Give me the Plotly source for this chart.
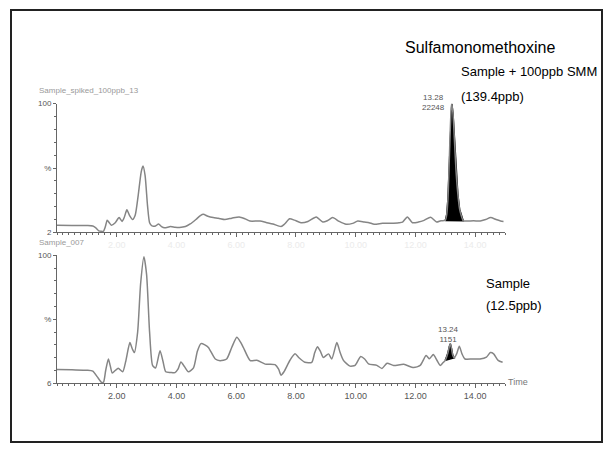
import plotly.graph_objects as go

W, H = 611, 452

# ---------------- data ----------------
top_time = [0.0, 0.5, 1.0, 1.2, 1.3, 1.4, 1.55, 1.62, 1.68, 1.75, 1.82, 1.95, 2.08, 2.18, 2.25, 2.34,
            2.42, 2.53, 2.62, 2.72, 2.82, 2.88, 2.95, 3.03, 3.1, 3.18, 3.3, 3.4, 3.5, 3.6, 3.8, 3.95,
            4.1, 4.3, 4.46, 4.65, 4.8, 4.9, 5.05, 5.23, 5.4, 5.62, 5.85, 6.1, 6.3, 6.46, 6.8, 7.0,
            7.23, 7.5, 7.62, 7.79, 7.95, 8.17, 8.4, 8.68, 8.9, 9.05, 9.23, 9.45, 9.68, 9.9, 10.07,
            10.29, 10.45, 10.62, 10.9, 11.18, 11.45, 11.57, 11.73, 11.9, 12.1, 12.29, 12.51, 12.71,
            12.85, 13.0, 13.05, 13.09, 13.12, 13.16, 13.2, 13.22, 13.26, 13.31, 13.36, 13.42, 13.48,
            13.55, 13.6, 13.72, 13.95, 14.17, 14.35, 14.52, 14.7, 14.85, 14.95]
top_pct = [5.5, 5.3, 5.3, 5.0, 3.5, 1.2, 0.8, 4.5, 9.5, 7.5, 5.5, 7.5, 11.5, 8.5, 11.5, 17.5,
           13.5, 10.0, 13.5, 29, 47, 51.5, 44, 21, 7.5, 5.0, 5.0, 6.5, 4.5, 3.5, 4.5, 4.0,
           3.8, 4.5, 6.5, 10.0, 13.0, 14.0, 12.5, 11.5, 11.0, 10.0, 11.0, 12.0, 10.5, 8.8, 8.8, 7.7,
           6.5, 4.5, 6.5, 10.5, 9.5, 7.5, 8.5, 12.0, 8.0, 9.0, 11.5, 8.5, 6.3, 7.0, 8.8,
           8.0, 7.5, 6.3, 7.0, 7.1, 7.5, 8.0, 12.0, 7.5, 8.0, 9.3, 11.8, 8.0,
           9.0, 9.3, 14, 26, 45, 75, 97, 100, 92, 70, 48, 30, 18,
           12, 9.0, 8.8, 9.0, 8.8, 10.0, 11.5, 10.0, 8.8, 8.5]

bot_time = [0.0, 0.5, 1.0, 1.2, 1.35, 1.5, 1.56, 1.63, 1.72, 1.78, 1.85, 1.95, 2.05, 2.2, 2.3, 2.44,
            2.52, 2.59, 2.7, 2.8, 2.91, 3.0, 3.1, 3.2, 3.3, 3.45, 3.55, 3.64, 3.8, 3.95, 4.05, 4.15,
            4.27, 4.4, 4.57, 4.7, 4.82, 4.95, 5.07, 5.3, 5.46, 5.68, 5.85, 6.02, 6.15, 6.24, 6.47,
            6.69, 6.97, 7.3, 7.42, 7.5, 7.6, 7.8, 7.97, 8.1, 8.3, 8.53, 8.63, 8.72, 8.82, 8.92, 9.09,
            9.2, 9.37, 9.48, 9.59, 9.81, 9.98, 10.17, 10.3, 10.43, 10.71, 10.88, 11.05, 11.27, 11.61,
            11.94, 12.16, 12.36, 12.47, 12.6, 12.72, 12.83, 12.92, 13.0, 13.08, 13.14, 13.17, 13.21,
            13.25, 13.3, 13.38, 13.47, 13.56, 13.66, 13.9, 14.16, 14.38, 14.51, 14.62, 14.77, 14.92]
bot_pct = [10.8, 10.5, 10.2, 9.5, 5.0, 0.5, 1.0, 10, 19, 14, 8, 10, 11.8, 9, 17, 31.8,
           27, 24, 40, 78, 99, 85, 40, 14, 12, 25.5, 17, 9, 8.5, 8.3, 11, 16.7,
           13, 9, 12, 25, 31, 30, 28, 19, 17.7, 19, 28, 36, 32, 28, 17.7,
           18, 15, 14.6, 11, 6.3, 9, 18, 23, 20, 16.4, 16.4, 24, 28.5, 25, 20.2, 23,
           19, 31.8, 24, 17.9, 13.4, 14, 21, 19, 15.2, 14, 11.6, 15.7, 14, 14.8,
           12.3, 14, 21.7, 19.2, 22.5, 18, 14, 16, 18, 23, 29, 31, 27,
           22, 20, 23, 29, 23, 19, 19, 19, 20.5, 24, 23, 17.9, 16.4]

# integrated (black) peak windows
top_peak = (13.0, 13.6)
bot_peak = (13.0, 13.3)

x_ticks = [2, 4, 6, 8, 10, 12, 14]
x_labels = ["2.00", "4.00", "6.00", "8.00", "10.00", "12.00", "14.00"]
top_ylabels = ["2", "%", "100"]
bot_ylabels = ["6", "%", "100"]

# ---------------- figure ----------------
def px(x):
    return x / W

def py(y):
    return 1 - y / H

fig = go.Figure()

def add_panel(t, p, win, xa, ya):
    sel_t = [a for a in t if win[0] <= a <= win[1]]
    sel_p = [b for a, b in zip(t, p) if win[0] <= a <= win[1]]
    fig.add_trace(go.Scatter(x=sel_t + [sel_t[0]], y=sel_p + [sel_p[0]], fill="toself",
                             fillcolor="black", mode="lines", line=dict(color="black", width=1.5),
                             xaxis=xa, yaxis=ya, hoverinfo="skip"))
    fig.add_trace(go.Scatter(x=t, y=p, mode="lines",
                             line=dict(color="#858585", width=1.5, shape="spline", smoothing=0.6),
                             xaxis=xa, yaxis=ya))

add_panel(top_time, top_pct, top_peak, "x", "y")
add_panel(bot_time, bot_pct, bot_peak, "x2", "y2")

xdom = [px(57), px(505)]
axis_common = dict(showgrid=False, zeroline=False, showline=True, linecolor="#666666", linewidth=1,
                   ticks="outside", tickcolor="#666666", mirror=False)

fig.update_layout(
    width=W, height=H, margin=dict(l=0, r=0, t=0, b=0),
    paper_bgcolor="white", plot_bgcolor="white", showlegend=False,
    font=dict(family="Arial, Liberation Sans, sans-serif"),
    xaxis=dict(domain=xdom, range=[0, 15], anchor="y", tickvals=x_ticks, ticktext=x_labels,
               ticklen=4, tickfont=dict(size=9, color="#ebebeb"),
               minor=dict(dtick=0.2, tick0=0, ticklen=2, ticks="outside", tickcolor="#666666"),
               **axis_common),
    yaxis=dict(domain=[py(233), py(101.7)], range=[0, 100], anchor="x", tickvals=[0, 50, 100],
               ticktext=top_ylabels, ticklen=3, tickfont=dict(size=8, color="#555555"),
               minor=dict(dtick=10, tick0=0, ticklen=2, ticks="outside", tickcolor="#666666"),
               **axis_common),
    xaxis2=dict(domain=xdom, range=[0, 15], anchor="y2", tickvals=x_ticks, ticktext=x_labels,
                ticklen=4, tickfont=dict(size=9, color="#555555"),
                minor=dict(dtick=0.2, tick0=0, ticklen=2, ticks="outside", tickcolor="#666666"),
                **axis_common),
    yaxis2=dict(domain=[py(387), py(256.5)], range=[0, 100], anchor="x2", tickvals=[0, 50, 100],
                ticktext=bot_ylabels, ticklen=3, tickfont=dict(size=8, color="#555555"),
                minor=dict(dtick=10, tick0=0, ticklen=2, ticks="outside", tickcolor="#666666"),
                **axis_common),
)

# frame
fig.add_shape(type="rect", xref="paper", yref="paper", x0=px(11), x1=px(602), y0=py(447), y1=py(6),
              line=dict(color="#222222", width=2), fillcolor="rgba(0,0,0,0)")

def note(text, x, y, size, color="black", xanchor="left"):
    fig.add_annotation(text=text, xref="paper", yref="paper", x=px(x), y=py(y), showarrow=False,
                       xanchor=xanchor, yanchor="middle", font=dict(size=size, color=color),
                       borderpad=0)

note("Sulfamonomethoxine", 404, 44, 16)
note("Sample + 100ppb SMM", 460, 69, 13)
note("(139.4ppb)", 460, 94, 13)
note("Sample", 485, 285, 13)
note("(12.5ppb)", 485, 308, 13)
note("Sample_spiked_100ppb_13", 38, 88, 8, "#999999")
note("Sample_007", 38, 243, 8, "#999999")
note("13.28<br>22248", 433, 101, 8, "#555555", "center")
note("13.24<br>1151", 448, 337, 8, "#555555", "center")
note("Time", 507, 386, 9, "#777777")

fig.write_html("out.html", config=dict(displayModeBar=False),
               post_script="document.body.style.margin='0px';document.body.style.overflow='hidden';")
